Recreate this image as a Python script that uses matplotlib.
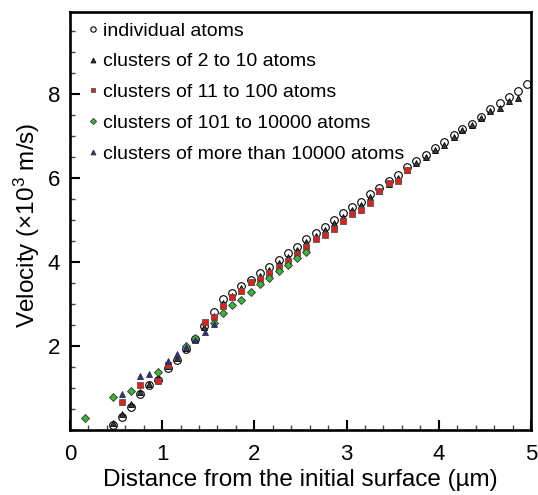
import matplotlib
matplotlib.use("Agg")
import matplotlib.pyplot as plt
from matplotlib.ticker import MultipleLocator

plt.rcParams["font.family"] = ["Liberation Sans", "DejaVu Sans"]
plt.rcParams["mathtext.fontset"] = "custom"
plt.rcParams["mathtext.rm"] = "Liberation Sans"
plt.rcParams["mathtext.it"] = "Liberation Sans:italic"

# === Velocity vs. distance, per cluster size class ===
atoms_x = [0.47, 0.56, 0.66, 0.76, 0.86, 0.96, 1.06, 1.16, 1.26, 1.36, 1.45, 1.56,
           1.66, 1.76, 1.86, 1.96, 2.06, 2.16, 2.27, 2.36, 2.46, 2.56, 2.67, 2.77,
           2.86, 2.96, 3.06, 3.16, 3.25, 3.35, 3.46, 3.56, 3.66, 3.75, 3.86, 3.96,
           4.06, 4.16, 4.25, 4.36, 4.46, 4.56, 4.66, 4.76, 4.86, 4.96]
atoms_v = [0.12, 0.31, 0.55, 0.85, 1.07, 1.20, 1.48, 1.67, 1.92, 2.17, 2.47, 2.81,
           3.12, 3.26, 3.43, 3.57, 3.74, 3.88, 4.05, 4.21, 4.36, 4.55, 4.69, 4.83,
           5.00, 5.17, 5.31, 5.43, 5.62, 5.76, 5.93, 6.07, 6.26, 6.40, 6.55, 6.72,
           6.86, 7.02, 7.17, 7.29, 7.45, 7.64, 7.79, 7.93, 8.07, 8.23]

small_x = [0.47, 0.56, 0.66, 0.76, 0.86, 0.96, 1.06, 1.16, 1.26, 1.36, 1.45, 1.56,
           1.66, 1.76, 1.86, 1.96, 2.06, 2.16, 2.27, 2.36, 2.46, 2.56, 2.67, 2.77,
           2.86, 2.96, 3.06, 3.16, 3.25, 3.35, 3.46, 3.56, 3.66, 3.75, 3.86, 3.96,
           4.06, 4.16, 4.25, 4.36, 4.46, 4.56, 4.66, 4.76, 4.86]
small_v = [0.17, 0.38, 0.62, 0.90, 1.10, 1.25, 1.52, 1.72, 1.96, 2.17, 2.45, 2.72,
           3.02, 3.20, 3.37, 3.52, 3.66, 3.80, 3.97, 4.13, 4.28, 4.47, 4.62, 4.75,
           4.92, 5.08, 5.23, 5.35, 5.54, 5.68, 5.86, 6.00, 6.20, 6.36, 6.50, 6.66,
           6.78, 6.98, 7.14, 7.27, 7.43, 7.60, 7.66, 7.84, 7.90]

mid_x = [0.56, 0.76, 0.96, 1.06, 1.46, 1.56, 1.66, 1.76, 1.86, 1.96, 2.06, 2.16,
         2.27, 2.36, 2.46, 2.56, 2.67, 2.77, 2.86, 2.96, 3.06, 3.16, 3.25, 3.35,
         3.46, 3.56, 3.66]
mid_v = [0.66, 1.07, 1.17, 1.56, 2.57, 2.69, 2.95, 3.17, 3.31, 3.52, 3.60, 3.74,
         3.88, 4.02, 4.19, 4.36, 4.55, 4.64, 4.79, 4.98, 5.14, 5.24, 5.40, 5.69,
         5.88, 5.93, 6.19]

large_x = [0.16, 0.47, 0.66, 0.96, 1.26, 1.36, 1.56, 1.66, 1.76, 1.86, 1.96, 2.06,
           2.16, 2.27, 2.36, 2.46, 2.56]
large_v = [0.29, 0.79, 0.93, 1.38, 2.00, 2.19, 2.55, 2.78, 2.98, 3.10, 3.29, 3.48,
           3.62, 3.79, 3.93, 4.10, 4.24]

huge_x = [0.56, 0.76, 0.86, 1.06, 1.16, 1.26, 1.36, 1.46, 1.56]
huge_v = [0.87, 1.29, 1.33, 1.64, 1.81, 1.97, 2.14, 2.33, 2.52]

labels = ["individual atoms", "clusters of 2 to 10 atoms", "clusters of 11 to 100 atoms",
          "clusters of 101 to 10000 atoms", "clusters of more than 10000 atoms"]

fig = plt.figure(figsize=(5.38, 4.95), dpi=100)
ax = fig.add_axes([0.130, 0.131, 0.857, 0.845])

ax.plot(atoms_x, atoms_v, "o", ms=5.5, mfc="white", mec="black", mew=0.8, label=labels[0])
ax.plot(small_x, small_v, "^", ms=5, mfc="#3a3a3a", mec="black", mew=0.6, label=labels[1])
ax.plot(mid_x, mid_v, "s", ms=4.5, mfc="#e0201b", mec="#555555", mew=0.6, label=labels[2])
ax.plot(large_x, large_v, "D", ms=4.5, mfc="#3cb43c", mec="#333333", mew=0.6, label=labels[3])
ax.plot(huge_x, huge_v, "^", ms=5, mfc="#2b2f96", mec="#333333", mew=0.6, label=labels[4])

ax.set_xlim(0, 5)
ax.set_ylim(0, 9.95)
ax.xaxis.set_major_locator(MultipleLocator(1))
ax.xaxis.set_minor_locator(MultipleLocator(0.2))
ax.set_yticks([2, 4, 6, 8])
ax.yaxis.set_minor_locator(MultipleLocator(0.5))
ax.tick_params(which="both", direction="in", top=False, right=False, labelsize=16)
ax.tick_params(which="major", length=7.5, width=1.5)
ax.tick_params(axis="x", which="major", pad=10)
ax.tick_params(axis="y", which="major", pad=7)
ax.tick_params(which="minor", length=3.8, width=1, color="#444444")
for s in ax.spines.values():
    s.set_linewidth(1.9)

ax.set_xlabel("Distance from the initial surface (\u00b5m)", fontsize=17.5, labelpad=3)
ax.set_ylabel("Velocity (\u00d710$^{3}$ m/s)", fontsize=17.5)
ax.yaxis.set_label_coords(-0.061, 0.49)

# legend rows sit on the minor-tick grid (first row ~9.5, third row ~8)
leg = ax.legend(loc="upper left", bbox_to_anchor=(0.024, 0.99), frameon=False, fontsize=14,
                markerscale=0.7, handlelength=0.6, handletextpad=0.25, labelspacing=0.68,
                borderaxespad=0.1, borderpad=0.2)

fig.savefig("out.png", dpi=100)
